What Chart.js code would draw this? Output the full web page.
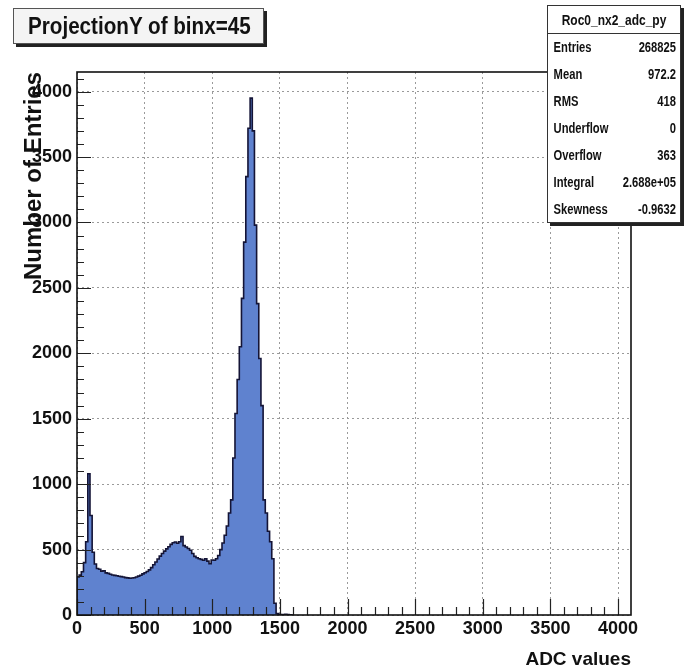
<!DOCTYPE html>
<html>
<head>
<meta charset="utf-8">
<script src="https://cdn.jsdelivr.net/npm/chart.js@4"></script>
<style>
  body { margin: 0; background: #fff; font-family: "Liberation Sans", Arial, Helvetica, sans-serif; }
  #wrap { position: relative; width: 684px; height: 672px; overflow: hidden; }
  #titlebox {
    position: absolute; left: 13px; top: 8px; width: 249px; height: 34px;
    border: 1.5px solid #555; background: #f4f4f4; box-shadow: 3px 3px 0 #222;
    overflow: hidden;
  }
  #titlebox span {
    position: absolute; left: 14px; top: 3px; font-weight: bold; font-size: 24px; color: #111;
    white-space: nowrap; transform: scaleX(0.86); transform-origin: 0 0;
  }
  #stats {
    position: absolute; left: 547px; top: 5px; width: 132px; height: 216px;
    border: 1.5px solid #333; background: #fff; box-shadow: 3px 3px 0 #222; overflow: hidden;
  }
  #stats .inner { width: 165px; transform: scaleX(0.8); transform-origin: 0 0; }
  #stats .head {
    height: 27px; line-height: 27px; text-align: center; font-weight: bold; font-size: 15px;
    border-bottom: 1.5px solid #333; color: #111;
  }
  #stats .row {
    display: flex; justify-content: space-between; height: 27px; line-height: 27px;
    padding: 0 5px 0 7px; font-weight: bold; font-size: 14px; color: #111;
  }
</style>
</head>
<body>
<div id="wrap">
  <canvas id="hist" width="684" height="672"></canvas>
  <div id="titlebox"><span id="titletext"></span></div>
  <div id="stats"><div class="inner" id="statsinner"></div></div>
</div>
<script>
// ProjectionY of binx=45 -- ADC spectrum, 16 ADC per bin
const chartTitle = 'ProjectionY of binx=45';
const histName = 'Roc0_nx2_adc_py';
const binWidth = 16;
const counts = [
  290, 305, 330, 400, 560, 1080, 760, 480, 390, 355,
  350, 335, 338, 322, 318, 312, 306, 303, 300, 296,
  293, 290, 286, 284, 281, 283, 285, 290, 297, 304,
  314, 323, 332, 345, 362, 384, 405, 428, 450, 470,
  488, 505, 522, 540, 552, 558, 548, 560, 600, 530,
  520, 508, 495, 470, 448, 438, 430, 425, 418, 430,
  412, 392, 420, 418, 430, 455, 500, 550, 610, 680,
  780, 880, 1200, 1540, 1800, 2050, 2420, 2850, 3350, 3720,
  3950, 3700, 2980, 2380, 1960, 1600, 880, 780, 640, 560,
  430, 90, 12, 6, 4, 3, 5, 3, 2, 0
];
const xTickValues = [0, 500, 1000, 1500, 2000, 2500, 3000, 3500, 4000];
const yTickValues = [0, 500, 1000, 1500, 2000, 2500, 3000, 3500, 4000];
const statsLabels = ['Entries', 'Mean', 'RMS', 'Underflow', 'Overflow', 'Integral', 'Skewness'];
const statsValues = ['268825', '972.2', '418', '0', '363', '2.688e+05', '-0.9632'];
const xMax = 4096;
const yMax = 4150;

document.getElementById('titletext').textContent = chartTitle;
const inner = document.getElementById('statsinner');
inner.innerHTML = '<div class="head">' + histName + '</div>' +
  statsLabels.map((l, i) => '<div class="row"><span>' + l + '</span><span>' + statsValues[i] + '</span></div>').join('');

const points = [{x: 0, y: 0}];
counts.forEach((c, i) => points.push({x: i * binWidth, y: c}));
points.push({x: counts.length * binWidth, y: 0});

// ROOT style frame with ticks drawn inside the pad
const rootFrame = {
  id: 'rootFrame',
  afterDatasetsDraw(chart) {
    const {ctx, chartArea: a, scales: {x, y}} = chart;
    ctx.save();
    ctx.strokeStyle = '#222';
    ctx.lineWidth = 1.2;
    ctx.beginPath();
    for (let v = 0; v <= xMax; v += 100) {
      const px = Math.round(x.getPixelForValue(v)) + 0.5;
      const len = v % 500 === 0 ? 16 : 8;
      ctx.moveTo(px, a.bottom);
      ctx.lineTo(px, a.bottom - len);
    }
    for (let v = 0; v <= yMax; v += 100) {
      const py = Math.round(y.getPixelForValue(v)) + 0.5;
      const len = v % 500 === 0 ? 14 : 7;
      ctx.moveTo(a.left, py);
      ctx.lineTo(a.left + len, py);
    }
    ctx.stroke();
    ctx.lineWidth = 1.6;
    ctx.strokeStyle = '#111';
    ctx.strokeRect(a.left, a.top, a.right - a.left, a.bottom - a.top);
    ctx.restore();
  }
};

const tickFont = {family: '"Liberation Sans", Arial, sans-serif', size: 18, weight: 'bold'};

new Chart(document.getElementById('hist'), {
  type: 'line',
  data: {
    datasets: [{
      label: histName,
      data: points,
      stepped: 'before',
      fill: 'origin',
      backgroundColor: '#5f82cf',
      borderColor: '#141436',
      borderWidth: 1.6,
      pointRadius: 0,
      tension: 0
    }]
  },
  options: {
    responsive: false,
    animation: false,
    layout: { padding: { top: 72, right: 53, left: 0, bottom: 0 } },
    plugins: { legend: { display: false }, tooltip: { enabled: false } },
    scales: {
      x: {
        type: 'linear',
        min: 0,
        max: xMax,
        afterBuildTicks(scale) { scale.ticks = xTickValues.map(v => ({value: v})); },
        afterFit(scale) { scale.height = 57; },
        border: { display: false, dash: [2, 3] },
        grid: { color: '#9a9a9a', lineWidth: 1, drawTicks: false },
        ticks: {
          autoSkip: false, maxRotation: 0,
          padding: 3, color: '#111', font: tickFont,
          callback: v => String(v)
        },
        title: {
          display: true, text: 'ADC values', align: 'end', color: '#111',
          font: {family: '"Liberation Sans", Arial, sans-serif', size: 19, weight: 'bold'},
          padding: { top: 0, bottom: 1 }
        }
      },
      y: {
        min: 0,
        max: yMax,
        afterBuildTicks(scale) { scale.ticks = yTickValues.map(v => ({value: v})); },
        afterFit(scale) { scale.width = 77; },
        border: { display: false, dash: [2, 3] },
        grid: { color: '#9a9a9a', lineWidth: 1, drawTicks: false },
        ticks: {
          autoSkip: false,
          padding: 5, color: '#111', font: tickFont,
          callback: v => String(v)
        },
        title: {
          display: true, text: 'Number of Entries', align: 'end', color: '#111',
          font: {family: '"Liberation Sans", Arial, sans-serif', size: 24, weight: 'bold'},
          padding: { top: 20, bottom: 0 }
        }
      }
    }
  },
  plugins: [rootFrame]
});
</script>
</body>
</html>
